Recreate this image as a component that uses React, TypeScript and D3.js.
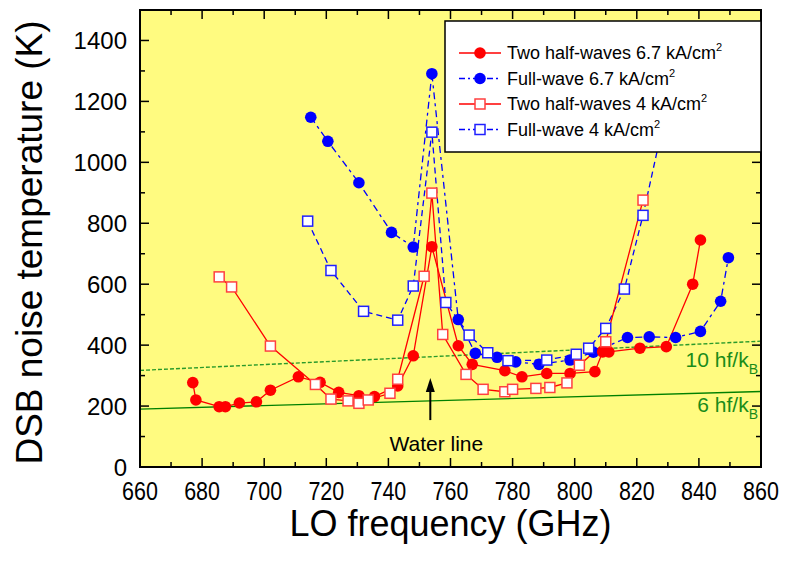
import { useRef, useEffect } from 'react';
import * as d3 from 'd3';

// Two half-waves, 6.7 kA/cm2 (red, filled circles)
const halfWave67Freq = [677, 678, 685.5, 687.5, 692, 697.5, 702, 711, 718, 724, 730.5, 735.5, 743, 748, 754, 762.5, 767, 777.5, 783, 791, 798.5, 806.5, 809, 811, 821, 829.5, 838, 840.5];
const halfWave67Temp = [277, 220, 198, 198, 210, 214, 252, 296, 278, 245, 234, 231, 266, 365, 723, 398, 337, 316, 296, 307, 307, 313, 378, 378, 390, 395, 600, 745];

// Full-wave, 6.7 kA/cm2 (blue, filled circles)
const fullWave67Freq = [715, 720.5, 730.5, 741, 748, 754, 762.5, 768, 775, 781, 788.5, 798.5, 806, 817, 824, 832.5, 840.5, 847, 849.5];
const fullWave67Temp = [1148, 1069, 933, 770, 722, 1291, 484, 373, 360, 345, 337, 351, 377, 425, 427, 425, 445, 544, 687];

// Two half-waves, 4 kA/cm2 (red, open squares)
const halfWave4Freq = [685.5, 689.5, 702, 716.5, 721.5, 727, 730.5, 733.5, 740.5, 743, 751.5, 754, 757.5, 765, 770.5, 777.5, 780, 787.5, 792, 797.5, 801.5, 810, 822];
const halfWave4Temp = [624, 591, 397, 271, 223, 217, 209, 220, 242, 288, 626, 899, 435, 304, 255, 247, 255, 258, 261, 276, 334, 411, 876];

// Full-wave, 4 kA/cm2 (blue, open squares)
const fullWave4Freq = [714, 721.5, 732, 743, 748, 754, 758.5, 766, 772, 778.5, 791, 800.5, 804.5, 810, 816, 822, 829];
const fullWave4Temp = [807, 645, 511, 482, 594, 1099, 540, 433, 375, 349, 351, 370, 390, 455, 584, 826, 1150];

// quantum limit lines (end points)
const hfFreq = [660, 860];
const hf6Temp = [190, 248];
const hf10Temp = [317, 413];

// water line arrow
const waterFreq = 753.5;
const waterArrowTemp = [154, 292];

const xTicks = [660, 680, 700, 720, 740, 760, 780, 800, 820, 840, 860];
const yTicks = [0, 200, 400, 600, 800, 1000, 1200, 1400];

const legendLabels = ['Two half-waves 6.7 kA/cm', 'Full-wave 6.7 kA/cm', 'Two half-waves 4 kA/cm', 'Full-wave 4 kA/cm'];

const FONT = '"Liberation Sans", Arial, Helvetica, sans-serif';

export default function App() {
  const svgRef = useRef<SVGSVGElement | null>(null);

  useEffect(() => {
    const width = 787, height = 563;
    const margin = { top: 10, right: 26, bottom: 96, left: 140 };
    const innerWidth = width - margin.left - margin.right;
    const innerHeight = height - margin.top - margin.bottom;

    d3.select(svgRef.current).selectAll('*').remove();
    const svg = d3.select(svgRef.current)
      .attr('width', width)
      .attr('height', height)
      .style('font-family', FONT);

    svg.append('rect').attr('width', width).attr('height', height).attr('fill', '#fff');

    const g = svg.append('g').attr('transform', `translate(${margin.left},${margin.top})`);

    const x = d3.scaleLinear().domain([660, 860]).range([0, innerWidth]);
    const y = d3.scaleLinear().domain([0, 1500]).range([innerHeight, 0]);

    // plot background
    g.append('rect')
      .attr('width', innerWidth)
      .attr('height', innerHeight)
      .attr('fill', '#fffb80');

    // hf/k lines
    const hfLine = (temps: number[]) => d3.line<number>()
      .x(d => x(d))
      .y((d, i) => y(temps[i]))(hfFreq);
    g.append('path').attr('d', hfLine(hf6Temp)).attr('stroke', '#008000').attr('stroke-width', 1.4).attr('fill', 'none');
    g.append('path').attr('d', hfLine(hf10Temp)).attr('stroke', '#2a9a2a').attr('stroke-width', 1.4)
      .attr('stroke-dasharray', '4,2').attr('fill', 'none');

    const hfLabel = (txt: string, baseline: number) => {
      const t = g.append('text')
        .attr('x', innerWidth - 3)
        .attr('y', baseline)
        .attr('text-anchor', 'end')
        .attr('fill', '#1a8c1a')
        .style('font-size', '21px');
      t.append('tspan').text(txt);
      t.append('tspan').attr('dy', 7).style('font-size', '14px').text('B');
    };
    hfLabel('10 hf/k', 357);
    hfLabel('6 hf/k', 402);

    // series
    const series = [
      { freq: fullWave67Freq, temp: fullWave67Temp, color: '#0000ff', dash: '7,4,3,4', shape: 'circle' },
      { freq: halfWave67Freq, temp: halfWave67Temp, color: '#ff0000', dash: null, shape: 'circle' },
      { freq: fullWave4Freq, temp: fullWave4Temp, color: '#0000ff', dash: '6,4', shape: 'square' },
      { freq: halfWave4Freq, temp: halfWave4Temp, color: '#ff0000', dash: null, shape: 'square' },
    ];

    series.forEach(s => {
      const line = d3.line<number>()
        .x(d => x(d))
        .y((d, i) => y(s.temp[i]));
      g.append('path')
        .attr('d', line(s.freq))
        .attr('fill', 'none')
        .attr('stroke', s.color)
        .attr('stroke-width', 1.3)
        .attr('stroke-dasharray', s.dash);
    });

    const drawMarker = (sel: d3.Selection<SVGGElement, unknown, null, undefined>, cx: number, cy: number, shape: string, color: string) => {
      if (shape === 'circle') {
        sel.append('circle').attr('cx', cx).attr('cy', cy).attr('r', 5.8).attr('fill', color);
      } else {
        const stroke = color === '#ff0000' ? '#ff4040' : '#2020ff';
        sel.append('rect').attr('x', cx - 5).attr('y', cy - 5).attr('width', 10).attr('height', 10)
          .attr('fill', '#fff').attr('stroke', stroke).attr('stroke-width', 1.5);
      }
    };

    series.forEach(s => {
      const mg = g.append('g');
      s.freq.forEach((f, i) => drawMarker(mg, x(f), y(s.temp[i]), s.shape, s.color));
    });

    // water line arrow
    const ax = x(waterFreq);
    g.append('line')
      .attr('x1', ax).attr('x2', ax)
      .attr('y1', y(waterArrowTemp[0])).attr('y2', y(waterArrowTemp[1]) + 10)
      .attr('stroke', '#000').attr('stroke-width', 2);
    const tipY = y(waterArrowTemp[1]);
    g.append('path')
      .attr('d', `M${ax},${tipY} L${ax - 4.5},${tipY + 14} L${ax + 4.5},${tipY + 14} Z`)
      .attr('fill', '#000');
    g.append('text')
      .attr('x', ax + 6)
      .attr('y', y(waterArrowTemp[0]) + 31)
      .attr('text-anchor', 'middle')
      .style('font-size', '21px')
      .text('Water line');

    // ticks on all four sides (inward)
    const xMinor = d3.range(660, 861, 10);
    const yMinor = d3.range(0, 1501, 100);
    const tickG = g.append('g').attr('stroke', '#000').attr('stroke-width', 1.5);
    xMinor.forEach(v => {
      const len = v % 20 === 0 ? 9 : 5;
      tickG.append('line').attr('x1', x(v)).attr('x2', x(v)).attr('y1', innerHeight).attr('y2', innerHeight - len);
      tickG.append('line').attr('x1', x(v)).attr('x2', x(v)).attr('y1', 0).attr('y2', len);
    });
    yMinor.forEach(v => {
      const len = v % 200 === 0 ? 9 : 5;
      tickG.append('line').attr('x1', 0).attr('x2', len).attr('y1', y(v)).attr('y2', y(v));
      tickG.append('line').attr('x1', innerWidth).attr('x2', innerWidth - len).attr('y1', y(v)).attr('y2', y(v));
    });

    // frame
    g.append('rect')
      .attr('width', innerWidth)
      .attr('height', innerHeight)
      .attr('fill', 'none')
      .attr('stroke', '#000')
      .attr('stroke-width', 2);

    // tick labels (x labels are narrow and tall in the original)
    g.append('g').selectAll('text').data(xTicks).join('text')
      .attr('transform', d => `translate(${x(d)},${innerHeight + 33}) scale(0.86,1)`)
      .attr('text-anchor', 'middle')
      .style('font-size', '25px')
      .text(d => d);
    g.append('g').selectAll('text').data(yTicks).join('text')
      .attr('x', -13)
      .attr('y', d => y(d))
      .attr('dy', '0.36em')
      .attr('text-anchor', 'end')
      .style('font-size', '24px')
      .text(d => d);

    // axis titles
    g.append('text')
      .attr('x', innerWidth / 2)
      .attr('y', innerHeight + 69)
      .attr('text-anchor', 'middle')
      .style('font-size', '36px')
      .text('LO frequency (GHz)');
    g.append('text')
      .attr('transform', `translate(${-98},${innerHeight / 2 + 4}) rotate(-90)`)
      .attr('text-anchor', 'middle')
      .style('font-size', '37px')
      .text('DSB noise temperature (K)');

    // legend
    const legW = 316, legH = 131;
    const leg = g.append('g').attr('transform', `translate(${innerWidth - legW},${11})`);
    leg.append('rect')
      .attr('width', legW)
      .attr('height', legH)
      .attr('fill', '#fff')
      .attr('stroke', '#000')
      .attr('stroke-width', 1.5);
    const legendStyle = [series[1], series[0], series[3], series[2]];
    legendLabels.forEach((lab, i) => {
      const s = legendStyle[i];
      const ry = 32 + i * 25.5;
      const row = leg.append('g');
      row.append('line')
        .attr('x1', 14).attr('x2', 56)
        .attr('y1', ry).attr('y2', ry)
        .attr('stroke', s.color)
        .attr('stroke-width', 1.3)
        .attr('stroke-dasharray', s.dash ? '6,3,2,3' : null);
      drawMarker(row, 35, ry, s.shape, s.color);
      const t = row.append('text')
        .attr('x', 62)
        .attr('y', ry + 6)
        .style('font-size', '18px');
      t.append('tspan').text(lab);
      t.append('tspan').attr('dy', -8).style('font-size', '11px').text('2');
    });
  }, []);

  return <svg ref={svgRef} style={{ position: 'absolute', left: 0, top: 0 }}></svg>;
}
